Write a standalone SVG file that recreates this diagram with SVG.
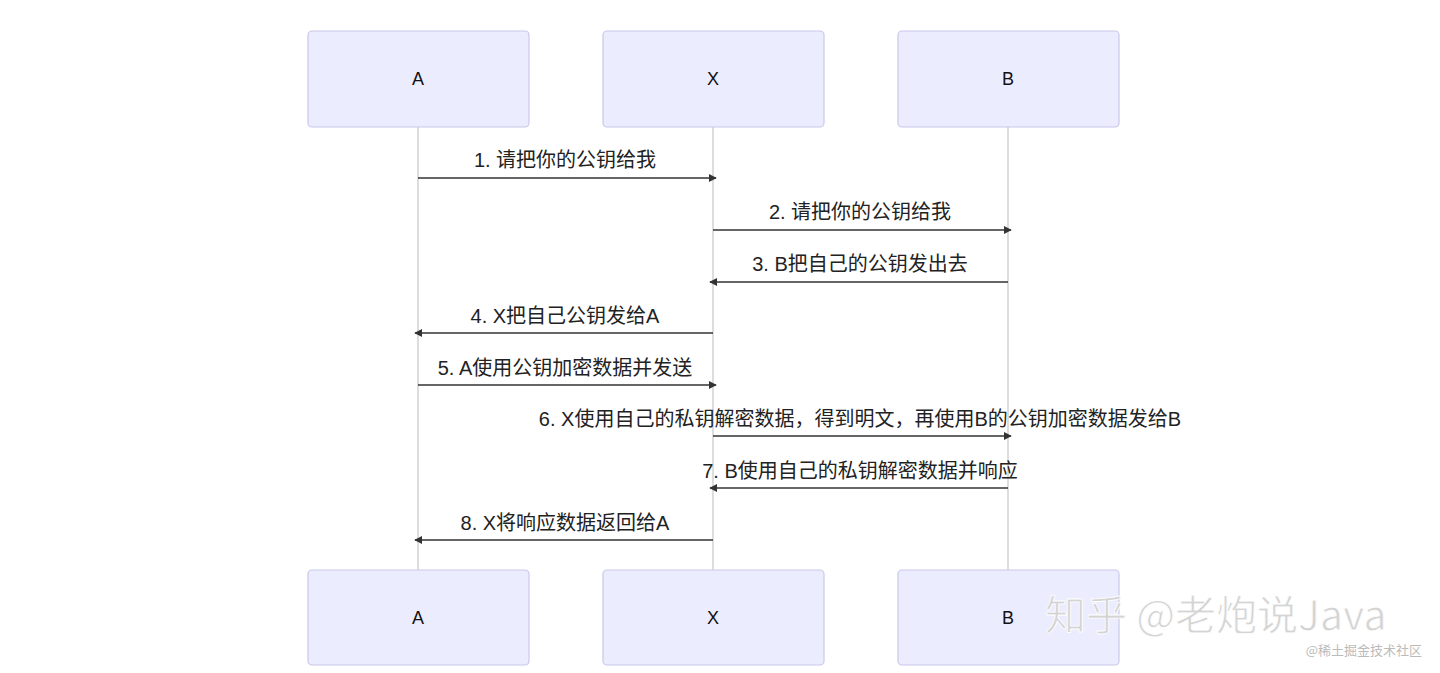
<svg xmlns="http://www.w3.org/2000/svg" width="1440" height="673" viewBox="0 0 1440 673">
<defs>
<style>
.box{fill:#ececff;stroke:#c8c8ea;stroke-width:1.2}
.lbl{font-family:"Liberation Sans","Noto Sans CJK SC",sans-serif;font-size:18px;fill:#111;text-anchor:middle}
.msg{font-family:"Liberation Sans","Noto Sans CJK SC",sans-serif;font-size:20px;fill:#222;text-anchor:middle}
.life{stroke:#bbb;stroke-width:1}
.arr{stroke:#333;stroke-width:1.6;fill:none;marker-end:url(#ah)}
</style>
<marker id="ah" viewBox="0 0 10 10" refX="9" refY="5" markerWidth="8" markerHeight="8" markerUnits="userSpaceOnUse" orient="auto"><path d="M0,0L10,5L0,10z" fill="#333"/></marker>
</defs>
<rect width="1440" height="673" fill="#fff"/>
<g id="lifelines">
<line class="life" x1="418" y1="127" x2="418" y2="570"/>
<line class="life" x1="713" y1="127" x2="713" y2="570"/>
<line class="life" x1="1008" y1="127" x2="1008" y2="570"/>
</g>
<g id="A-top"><rect class="box" x="308" y="31" width="221" height="96" rx="4"/><text class="lbl" x="418" y="85">A</text></g>
<g id="X-top"><rect class="box" x="603" y="31" width="221" height="96" rx="4"/><text class="lbl" x="713" y="85">X</text></g>
<g id="B-top"><rect class="box" x="898" y="31" width="221" height="96" rx="4"/><text class="lbl" x="1008" y="85">B</text></g>
<g id="A-bottom"><rect class="box" x="308" y="570" width="221" height="95" rx="4"/><text class="lbl" x="418" y="624">A</text></g>
<g id="X-bottom"><rect class="box" x="603" y="570" width="221" height="95" rx="4"/><text class="lbl" x="713" y="624">X</text></g>
<g id="B-bottom"><rect class="box" x="898" y="570" width="221" height="95" rx="4"/><text class="lbl" x="1008" y="624">B</text></g>
<g id="connectors">
<line class="arr" x1="418" y1="178" x2="716" y2="178"/><text class="msg" x="565" y="167">1. 请把你的公钥给我</text>
<line class="arr" x1="713" y1="230" x2="1011" y2="230"/><text class="msg" x="860" y="219">2. 请把你的公钥给我</text>
<line class="arr" x1="1008" y1="282" x2="710" y2="282"/><text class="msg" x="860" y="271">3. B把自己的公钥发出去</text>
<line class="arr" x1="713" y1="333" x2="415" y2="333"/><text class="msg" x="565" y="323">4. X把自己公钥发给A</text>
<line class="arr" x1="418" y1="385" x2="716" y2="385"/><text class="msg" x="565" y="375">5. A使用公钥加密数据并发送</text>
<line class="arr" x1="713" y1="436" x2="1011" y2="436"/><text class="msg" x="860" y="426">6. X使用自己的私钥解密数据，得到明文，再使用B的公钥加密数据发给B</text>
<line class="arr" x1="1008" y1="488" x2="710" y2="488"/><text class="msg" x="860" y="478">7. B使用自己的私钥解密数据并响应</text>
<line class="arr" x1="713" y1="540" x2="415" y2="540"/><text class="msg" x="565" y="530">8. X将响应数据返回给A</text>
</g>
<g id="watermark" font-family="'Noto Sans CJK SC','Liberation Sans',sans-serif">
<text x="1045" y="630" font-size="41" fill="#d4d4d4" stroke="#fff" stroke-width="0.8">知乎 @老炮说Java</text>
<text x="1422" y="655" font-size="13" fill="#bbb" text-anchor="end">@稀土掘金技术社区</text>
</g>
</svg>
